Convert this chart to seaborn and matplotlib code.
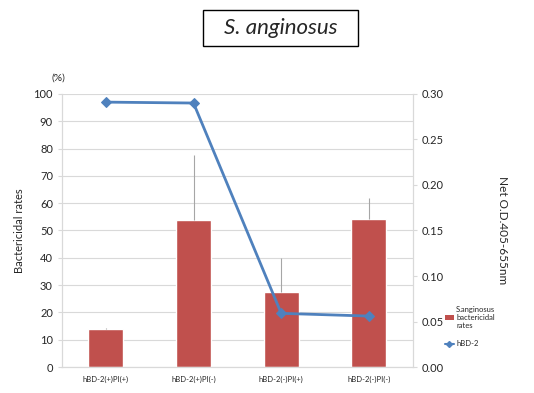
import numpy as np
import pandas as pd
import matplotlib
matplotlib.use("Agg")
import matplotlib.pyplot as plt
import seaborn as sns
from matplotlib.lines import Line2D
from matplotlib.patches import Patch, Rectangle

categories = ["hBD-2(+)PI(+)", "hBD-2(+)PI(-)", "hBD-2(-)PI(+)", "hBD-2(-)PI(-)"]
bactericidal = [14.0, 53.8, 27.4, 54.2]
bactericidal_err = [0.3, 23.9, 12.6, 7.7]
hbd2_od = [0.291, 0.290, 0.059, 0.056]

sns.set_style("white")
plt.rcParams["font.family"] = ["Lato", "DejaVu Sans"]

bar_color = "#C0504D"
line_color = "#4F81BD"
grid_color = "#D9D9D9"

df = pd.DataFrame({"group": categories, "rate": bactericidal, "od": hbd2_od})

fig = plt.figure(figsize=(5.34, 3.93), dpi=100)
ax = fig.add_axes([0.116, 0.066, 0.657, 0.695])

sns.barplot(data=df, x="group", y="rate", color=bar_color, width=0.4,
            saturation=1, ax=ax, zorder=2)
ax.errorbar(np.arange(len(categories)), bactericidal,
            yerr=[np.zeros(len(categories)), bactericidal_err],
            fmt="none", ecolor="#A6A6A6", elinewidth=0.8, capsize=0, zorder=3)

ax.set_ylim(0, 100)
ax.set_xlim(-0.5, 3.5)
ax.set_yticks(np.arange(0, 101, 10))
ax.yaxis.grid(True, color=grid_color, linewidth=0.8)
ax.set_axisbelow(True)
ax.set_xticks([-0.5, 0.5, 1.5, 2.5, 3.5])
ax.set_xticklabels([])
ax.set_xticks(np.arange(4), minor=True)
ax.set_xticklabels(categories, minor=True, fontsize=5.5)
ax.tick_params(axis="x", which="major", length=3, color=grid_color)
ax.tick_params(axis="x", which="minor", length=0, pad=6)
ax.tick_params(axis="y", labelsize=8, length=3, color=grid_color, left=True)
for s in ax.spines.values():
    s.set_color(grid_color)
ax.spines["top"].set_visible(False)
ax.set_xlabel("")
ax.set_ylabel("Bactericidal rates", fontsize=8, labelpad=6)
ax.text(-0.01, 1.05, "(%)", transform=ax.transAxes, fontsize=7.5, ha="center")

ax2 = ax.twinx()
sns.lineplot(x=np.arange(len(categories)), y=hbd2_od, ax=ax2, color=line_color,
             marker="D", markersize=5, markeredgecolor=line_color, linewidth=2,
             zorder=4)
ax2.set_ylim(0, 0.30)
ax2.set_yticks(np.arange(0, 0.301, 0.05))
ax2.set_yticklabels([f"{v:.2f}" for v in np.arange(0, 0.301, 0.05)])
ax2.tick_params(axis="y", labelsize=8, length=3, color=grid_color, right=True)
for s in ax2.spines.values():
    s.set_color(grid_color)
ax2.spines["top"].set_visible(False)
ax2.set_ylabel("Net O.D.405-655nm", fontsize=8.5, rotation=-90, labelpad=46)

handles = [Patch(facecolor=bar_color, edgecolor="none"),
           Line2D([0], [0], color=line_color, marker="D", markersize=3, linewidth=1.5)]
labels = ["S.anginosus\nbactericidal\nrates", "hBD-2"]
fig.legend(handles, labels, loc="upper left", bbox_to_anchor=(0.82, 0.24),
           frameon=False, fontsize=5.5, handlelength=1.2, handletextpad=0.3,
           labelspacing=1.5)

fig.patches.append(Rectangle((0.380, 0.883), 0.290, 0.092, transform=fig.transFigure,
                             facecolor="white", edgecolor="black", linewidth=1))
fig.text(0.525, 0.929, "S. anginosus", fontsize=16, style="italic",
         ha="center", va="center")

fig.savefig("out.png", dpi=100)
